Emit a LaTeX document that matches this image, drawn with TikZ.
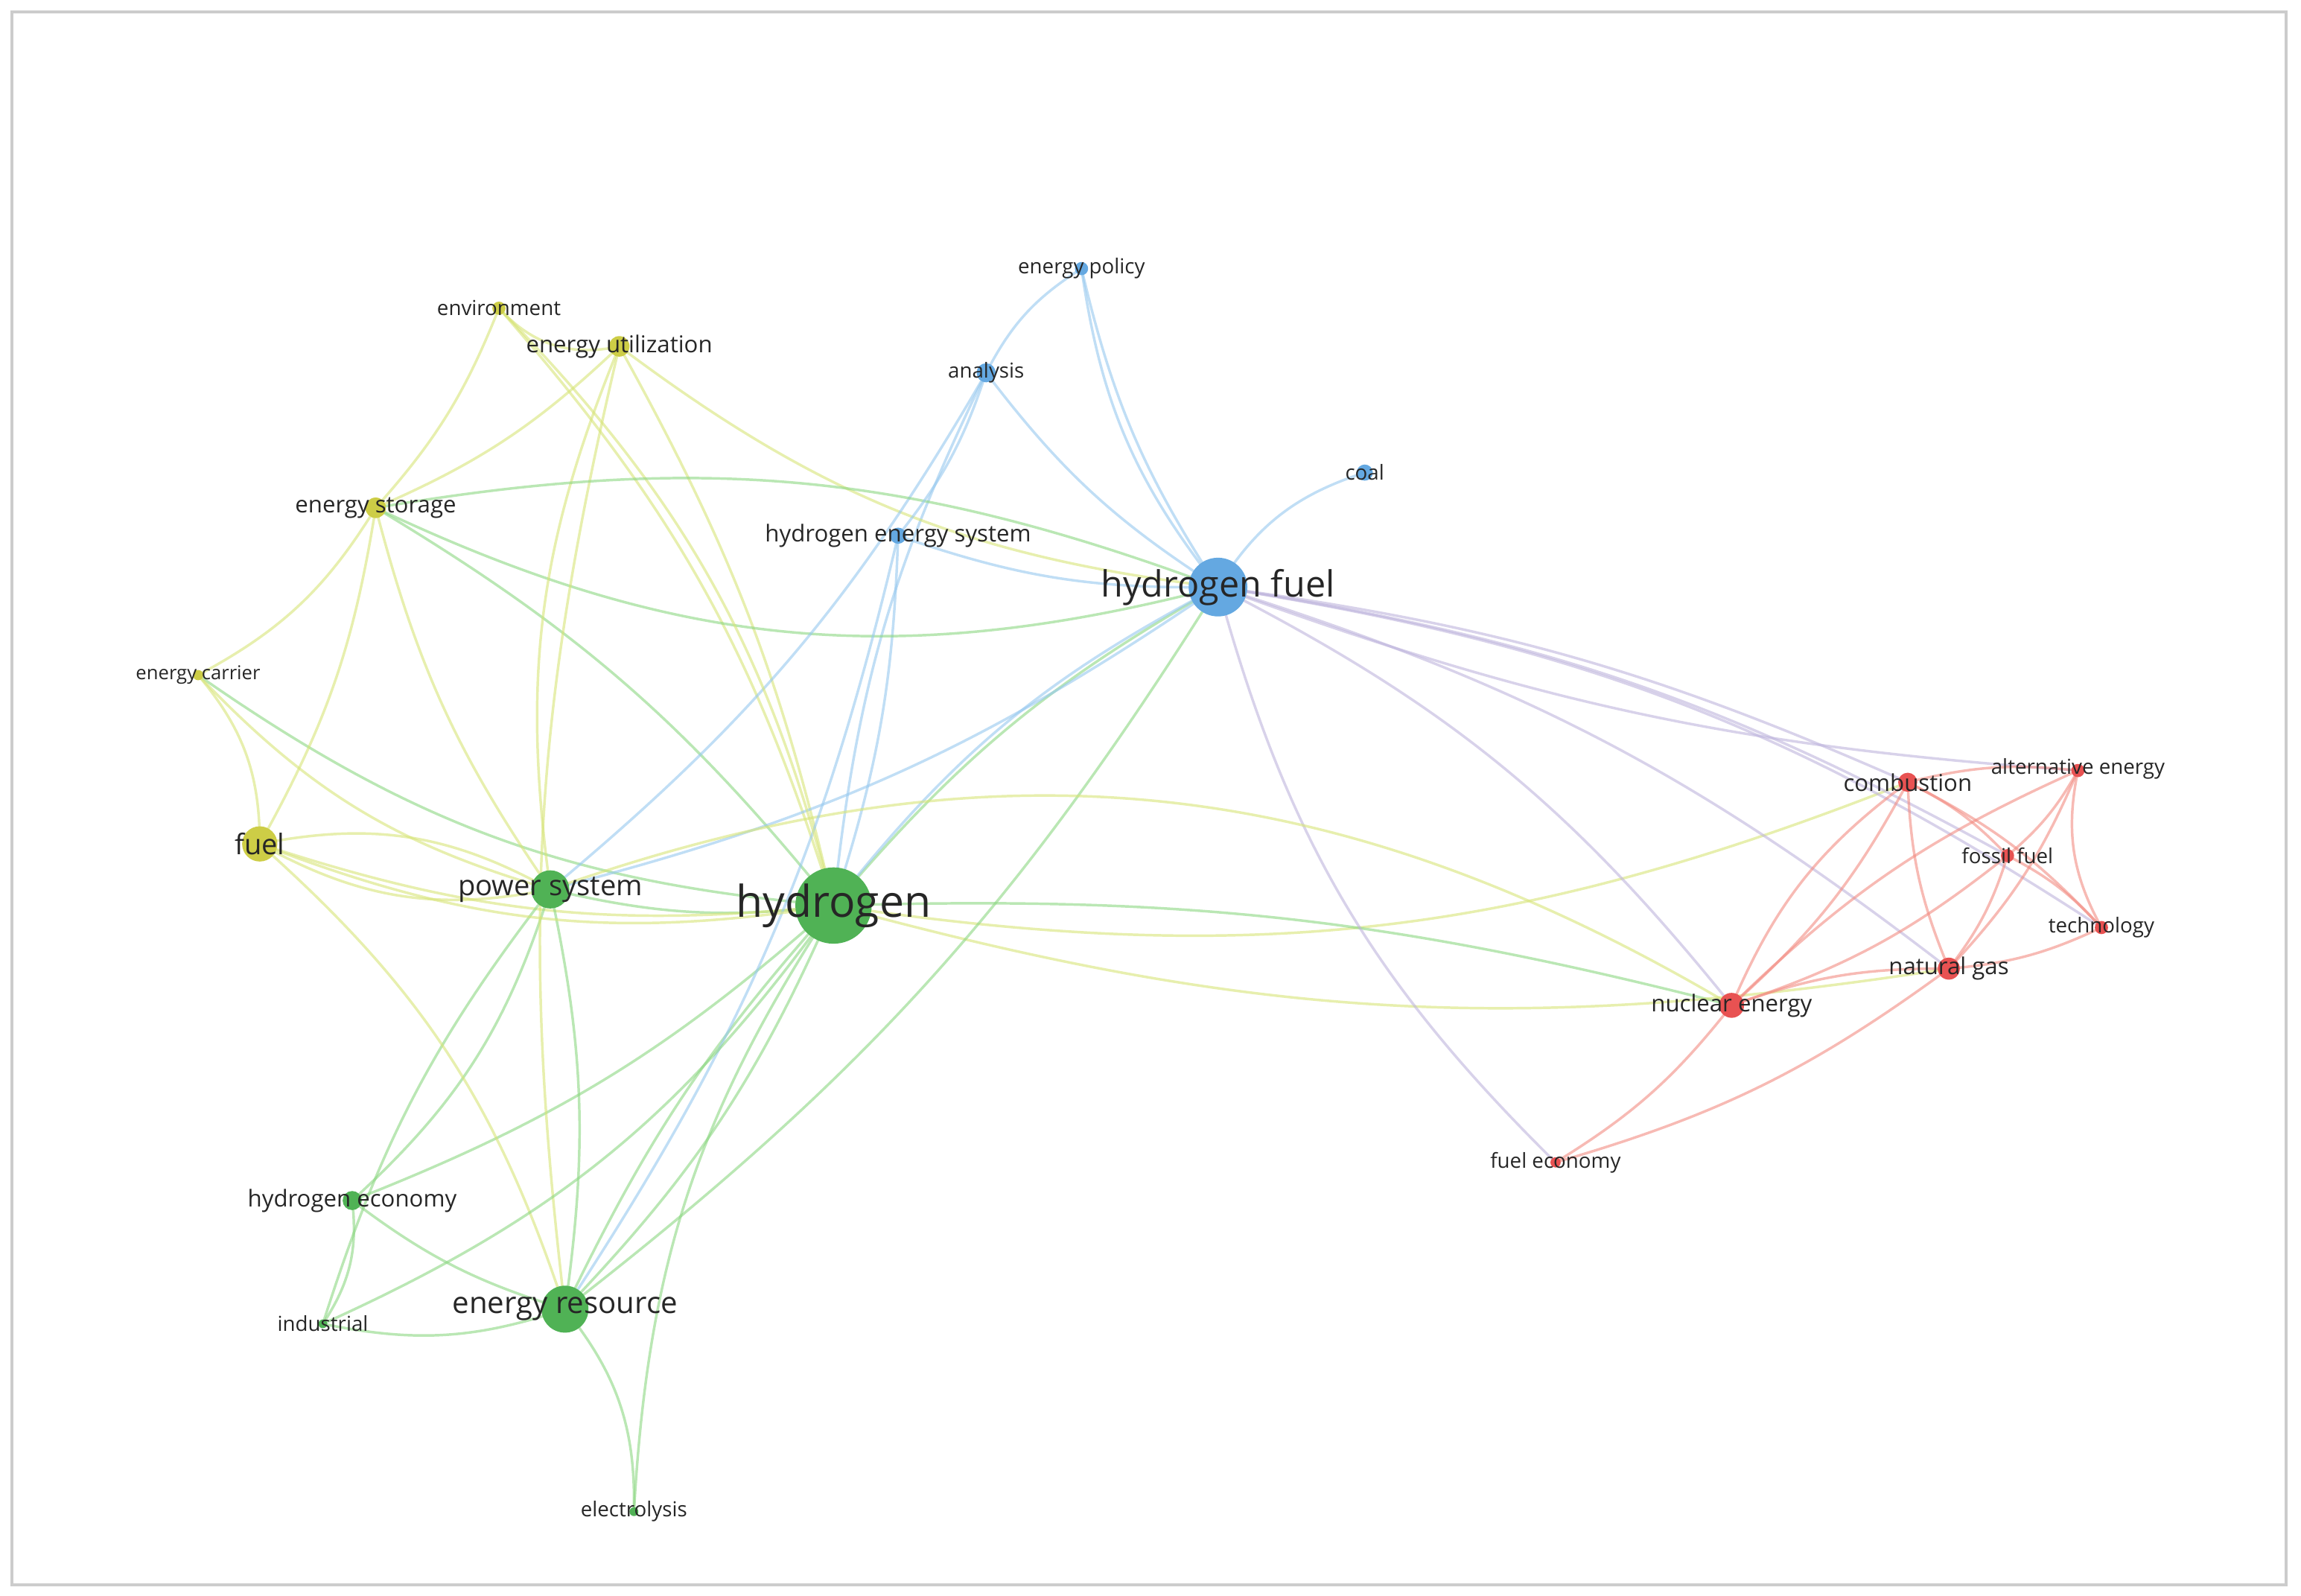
\documentclass[tikz,border=0pt]{standalone}
\usepackage{fontspec}
\setmainfont{Open Sans}
\begin{document}
\definecolor{gN}{RGB}{80,178,85}\definecolor{gE}{RGB}{140,215,130}
\definecolor{yN}{RGB}{205,205,70}\definecolor{yE}{RGB}{215,228,120}
\definecolor{bN}{RGB}{100,168,225}\definecolor{bE}{RGB}{150,200,238}
\definecolor{rN}{RGB}{232,82,82}\definecolor{rE}{RGB}{242,140,130}
\definecolor{pE}{RGB}{190,180,220}
\begin{tikzpicture}[x=0.01cm,y=-0.01cm,
 dot/.style={circle,inner sep=0pt,minimum size=#1},
 lab/.style={font=\fontsize{4}{5}\selectfont,text=black!85,inner sep=0pt},
 e/.style={line width=0.5pt,opacity=0.6}]
\useasboundingbox (0,0) rectangle (1568,1087);
\draw[black!20,line width=0.6pt] (8,8) rectangle (1558,1080);
\coordinate (H) at (568,617); \coordinate (HF) at (830,400);
\coordinate (PS) at (375,606); \coordinate (ER) at (385,892);
\coordinate (FU) at (177,575); \coordinate (ES) at (256,346);
\coordinate (EN) at (340,210); \coordinate (EU) at (422,236);
\coordinate (EC) at (135,460); \coordinate (HE) at (240,818);
\coordinate (IN) at (220,902); \coordinate (EL) at (432,1030);
\coordinate (AN) at (672,254); \coordinate (EP) at (737,183);
\coordinate (CO) at (930,322); \coordinate (HS) at (612,365);
\coordinate (CB) at (1300,533); \coordinate (AE) at (1416,525);
\coordinate (FF) at (1368,583); \coordinate (TE) at (1432,632);
\coordinate (NG) at (1328,660); \coordinate (NE) at (1180,685);
\coordinate (FE) at (1060,792);
\foreach \a/\b/\c/\t in {H/HF/gE/10,H/PS/gE/10,H/ER/gE/10,H/ER/gE/-8,H/FU/yE/12,H/ES/gE/-10,H/EU/yE/-8,H/EN/yE/-12,H/EC/gE/15,H/HE/gE/10,H/EL/gE/-15,H/AN/bE/10,H/HS/bE/-8,H/CB/yE/-15,H/NE/gE/8,H/NG/yE/-12,
HF/AN/bE/10,HF/EP/bE/15,HF/CO/bE/20,HF/HS/bE/10,HF/CB/pE/8,HF/NG/pE/10,HF/FF/pE/10,HF/AE/pE/-8,HF/TE/pE/12,HF/NE/pE/12,HF/FE/pE/-15,HF/PS/bE/10,HF/ES/gE/20,HF/ER/gE/10,HF/EU/yE/15,HF/H/bE/-12,
PS/FU/yE/-20,PS/ES/yE/10,PS/EC/yE/15,PS/ER/gE/10,PS/HE/gE/15,PS/IN/gE/-10,PS/NE/yE/25,PS/AN/bE/-10,PS/EU/yE/15,PS/FU/yE/20,
ER/EU/yE/10,ER/HE/gE/10,ER/IN/gE/15,ER/EL/gE/20,ER/FU/yE/-15,ER/HS/bE/-10,HE/IN/gE/20,IN/H/gE/-15,
FU/ES/yE/-10,FU/EC/yE/-20,FU/H/yE/-15,EN/ES/yE/10,EN/EU/yE/-30,ES/EU/yE/-10,ES/EC/yE/15,EN/H/yE/15,ES/HF/gE/15,
AN/EP/bE/15,AN/HS/bE/10,EP/HF/bE/-10,
CB/AE/rE/10,CB/FF/rE/10,CB/TE/rE/10,CB/NG/rE/-10,CB/NE/rE/10,AE/FF/rE/10,AE/TE/rE/-20,AE/NG/rE/10,AE/NE/rE/-10,FF/NG/rE/10,FF/TE/rE/10,FF/NE/rE/10,TE/NG/rE/10,NG/NE/rE/-10,NE/FE/rE/10,NG/FE/rE/10,CB/NE/rE/-15}
 \draw[e,\c] (\a) to[bend left=\t] (\b);
\foreach \p/\s/\c/\n in {H/52/gN/nH,HF/40/bN/nHF,PS/26/gN/nPS,ER/32/gN/nER,FU/24/yN/nFU,ES/14/yN/nES,EN/9/yN/nEN,EU/14/yN/nEU,EC/7/yN/nEC,HE/13/gN/nHE,IN/6/gN/nIN,EL/6/gN/nEL,AN/13/bN/nAN,EP/9/bN/nEP,CO/11/bN/nCO,HS/11/bN/nHS,CB/13/rN/nCB,AE/9/rN/nAE,FF/9/rN/nFF,TE/9/rN/nTE,NG/15/rN/nNG,NE/17/rN/nNE,FE/7/rN/nFE}
 \node[dot=\s*0.01cm,fill=\c] (\n) at (\p) {};
\node[lab,font=\fontsize{8.5}{10}\selectfont] (lH) at (H) {hydrogen};
\node[lab,font=\fontsize{7}{8}\selectfont] (lHF) at (HF) {hydrogen fuel};
\node[lab,font=\fontsize{5.5}{7}\selectfont] (lPS) at (PS) {power system};
\node[lab,font=\fontsize{5.8}{7}\selectfont] (lER) at (ER) {energy resource};
\node[lab,font=\fontsize{5.5}{7}\selectfont] (lFU) at (FU) {fuel};
\node[lab,font=\fontsize{4.5}{6}\selectfont] (lES) at (ES) {energy storage};
\node[lab] (lEN) at (EN) {environment};
\node[lab,font=\fontsize{4.5}{6}\selectfont] (lEU) at (EU) {energy utilization};
\node[lab,font=\fontsize{3.7}{5}\selectfont] (lEC) at (EC) {energy carrier};
\node[lab,font=\fontsize{4.5}{6}\selectfont] (lHE) at (HE) {hydrogen economy};
\node[lab] (lIN) at (IN) {industrial};
\node[lab] (lEL) at (EL) {electrolysis};
\node[lab] (lAN) at (AN) {analysis};
\node[lab] (lEP) at (EP) {energy policy};
\node[lab] (lCO) at (CO) {coal};
\node[lab,font=\fontsize{4.5}{6}\selectfont] (lHS) at (HS) {hydrogen energy system};
\node[lab,font=\fontsize{4.5}{6}\selectfont] (lCB) at (CB) {combustion};
\node[lab] (lAE) at (1416,524) {alternative energy};
\node[lab] (lFF) at (FF) {fossil fuel};
\node[lab] (lTE) at (TE) {technology};
\node[lab,font=\fontsize{4.5}{6}\selectfont] (lNG) at (NG) {natural gas};
\node[lab,font=\fontsize{4.5}{6}\selectfont] (lNE) at (NE) {nuclear energy};
\node[lab] (lFE) at (FE) {fuel economy};
\end{tikzpicture}
\end{document}
